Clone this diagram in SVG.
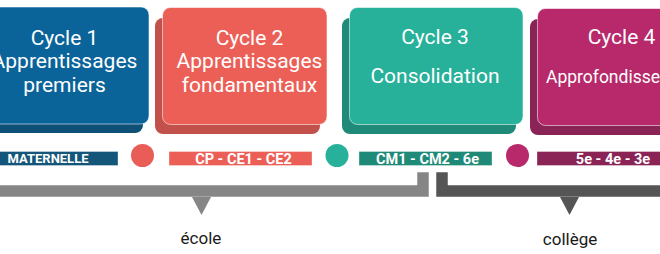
<svg xmlns="http://www.w3.org/2000/svg" width="660" height="254" viewBox="0 0 660 254">
<style>
.front{stroke:#ffffff;stroke-opacity:0.55;stroke-width:1}
.t{font-family:Roboto,"Liberation Sans",sans-serif;fill:#ffffff;font-size:21px;text-anchor:middle}
.lab{font-family:Roboto,"Liberation Sans",sans-serif;fill:#ffffff;font-size:14.5px;font-weight:bold;text-anchor:middle}
.bar{stroke:#ffffff;stroke-opacity:0.35;stroke-width:1}
.cap{font-family:Roboto,"Liberation Sans",sans-serif;fill:#1a1a1a;font-size:17px;text-anchor:middle}
</style>
<rect width="660" height="254" fill="#ffffff"/>

<g id="cycle1">
  <rect x="-26" y="17" width="169" height="116" rx="8" fill="#0f5077"/>
  <rect x="-19" y="7" width="168" height="117" rx="8" fill="#0a6499" class="front"/>
  <text class="t" x="64.5" y="44.5">Cycle 1</text>
  <text class="t" x="64.5" y="68">Apprentissages</text>
  <text class="t" x="64.5" y="91.5">premiers</text>
</g>

<g id="cycle2">
  <rect x="155" y="18" width="165" height="116" rx="8" fill="#c2514b"/>
  <rect x="162.5" y="7.5" width="164.5" height="117" rx="8" fill="#eb5f57" class="front"/>
  <text class="t" x="249.5" y="44.5">Cycle 2</text>
  <text class="t" x="249.5" y="68">Apprentissages</text>
  <text class="t" x="249.5" y="91.5">fondamentaux</text>
</g>

<g id="cycle3">
  <rect x="342" y="18" width="174" height="116" rx="8" fill="#1f8a77"/>
  <rect x="349.5" y="7.5" width="173.5" height="117" rx="8" fill="#27b09a" class="front"/>
  <text class="t" x="435" y="44">Cycle 3</text>
  <text class="t" x="435" y="83">Consolidation</text>
</g>

<g id="cycle4">
  <rect x="530" y="19" width="170" height="116" rx="8" fill="#8a2457"/>
  <rect x="537.5" y="8.5" width="170" height="117" rx="8" fill="#b7296a" class="front"/>
  <text class="t" x="621.5" y="44">Cycle 4</text>
  <text class="t" x="546" y="83" style="font-size:17.5px;text-anchor:start">Approfondissements</text>
</g>

<g id="levels">
  <rect class="bar" x="-10" y="151.5" width="128" height="14" fill="#14557a"/>
  <text class="lab" x="48" y="163" style="font-size:13px">MATERNELLE</text>
  <circle cx="142.5" cy="155.5" r="11.5" fill="#e85d55"/>
  <rect class="bar" x="169" y="151.5" width="143" height="14" fill="#eb5f57"/>
  <text class="lab" x="243.5" y="163.5">CP - CE1 - CE2</text>
  <circle cx="337" cy="155.5" r="11.5" fill="#27b09a"/>
  <rect class="bar" x="359" y="151.5" width="133" height="14" fill="#1f8a77"/>
  <text class="lab" x="427.5" y="163.5">CM1 - CM2 - 6e</text>
  <circle cx="517.5" cy="155.5" r="11.5" fill="#b7296a"/>
  <rect class="bar" x="537" y="151.5" width="140" height="14" fill="#8a2457"/>
  <text class="lab" x="613" y="163.5">5e - 4e - 3e</text>
</g>

<g id="connectors">
  <path d="M-10 185 H417 V172 H429 V197 H-10 Z" fill="#868686" stroke="#ffffff" stroke-opacity="0.5" stroke-width="1"/>
  <path d="M192 197 H211 L201.5 215 Z" fill="#868686"/>
  <path d="M670 185 H448 V172 H436 V197 H670 Z" fill="#545554" stroke="#ffffff" stroke-opacity="0.5" stroke-width="1"/>
  <path d="M560 197 H579 L569.5 215 Z" fill="#545554"/>
</g>

<g id="ecole">
  <text class="cap" x="201" y="244">école</text>
</g>
<g id="college">
  <text class="cap" x="570" y="245">collège</text>
</g>
</svg>
